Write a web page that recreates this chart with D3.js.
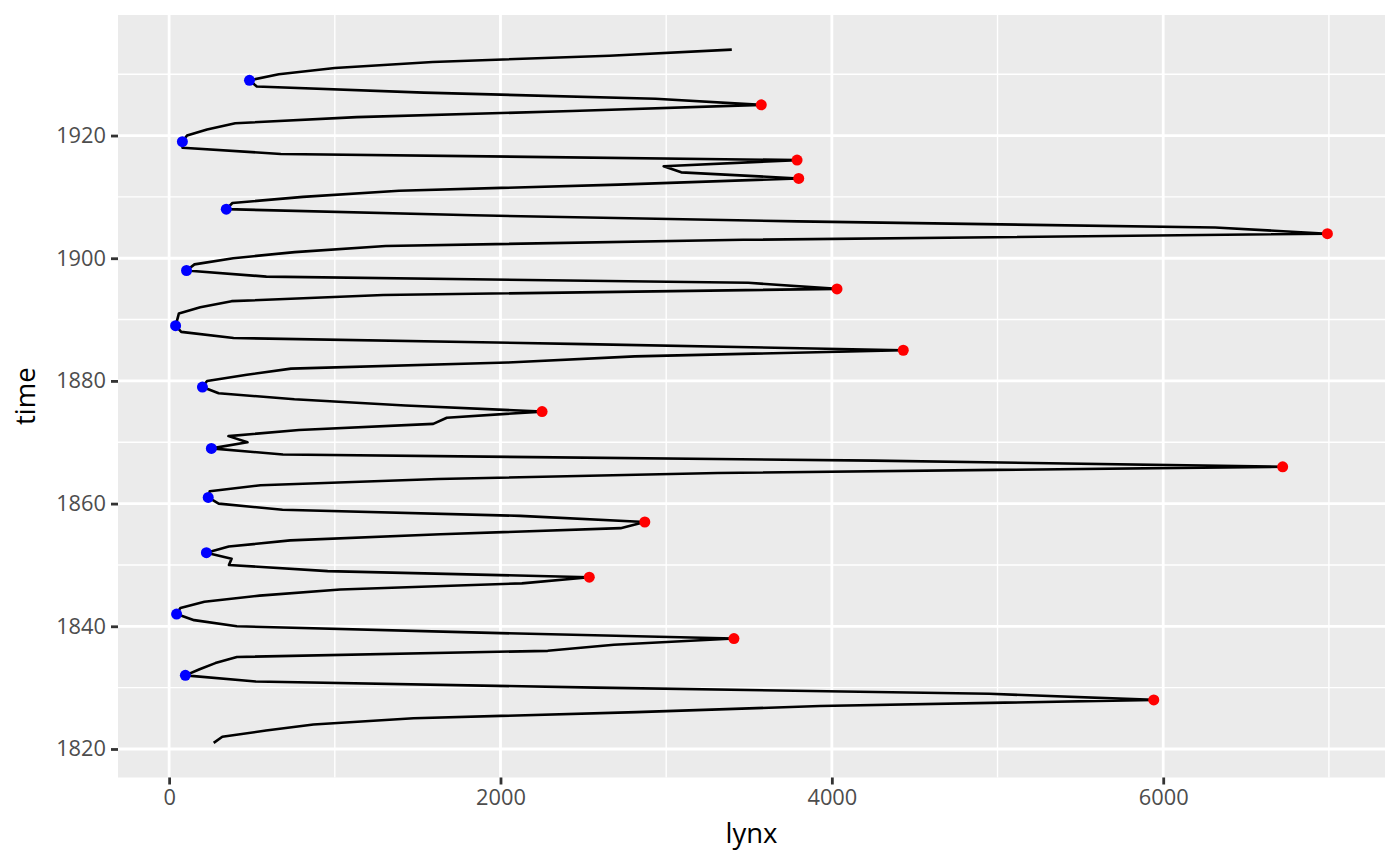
<!DOCTYPE html>
<html><head><meta charset="utf-8">
<script src="https://cdn.jsdelivr.net/npm/d3@7"></script>
<style>body{margin:0;background:#fff}svg{display:block}text{font-family:"Open Sans","Noto Sans",sans-serif}</style>
</head><body><svg id="c" width="1400" height="866"></svg>
<script>
const years = d3.range(1821, 1935);
const lynx = [269,321,585,871,1475,2821,3928,5943,4950,2577,523,98,184,279,409,2285,2685,3409,1824,409,
151,45,68,213,546,1033,2129,2536,957,361,377,225,360,731,1638,2725,2871,2119,684,299,
236,245,552,1623,3311,6721,4254,687,255,473,358,784,1594,1676,2251,1426,756,299,201,229,
469,736,2042,2811,4431,2511,389,73,39,49,59,188,377,1292,4031,3495,587,105,153,387,
758,1307,3465,6991,6313,3794,1836,345,382,808,1388,2713,3800,3091,2985,3790,674,81,80,108,
229,399,1132,2432,3574,2935,1537,529,485,662,1000,1590,2657,3396];
const peakYears = [1828,1838,1848,1857,1866,1875,1885,1895,1904,1913,1916,1925];
const troughYears = [1832,1842,1852,1861,1869,1879,1889,1898,1908,1919,1929];
const xTicks = [0,2000,4000,6000];
const xMinor = [1000,3000,5000,7000];
const yTicks = [1820,1840,1860,1880,1900,1920];
const yMinor = [1830,1850,1870,1890,1910,1930];

const data = years.map((t,i)=>({time:t, lynx:lynx[i]}));
const svg = d3.select("#c");
const L=118, R=1385, T=15, B=777.5;
const xr = d3.extent(lynx), xe=(xr[1]-xr[0])*0.05;
const yr = d3.extent(years), ye=(yr[1]-yr[0])*0.05;
const x = d3.scaleLinear().domain([xr[0]-xe, xr[1]+xe]).range([L,R]);
const y = d3.scaleLinear().domain([yr[0]-ye, yr[1]+ye]).range([B,T]);

svg.append("rect").attr("x",L).attr("y",T).attr("width",R-L).attr("height",B-T).attr("fill","#EBEBEB");
const g = svg.append("g");
xMinor.forEach(v=>g.append("line").attr("x1",x(v)).attr("x2",x(v)).attr("y1",T).attr("y2",B).attr("stroke","#fff").attr("stroke-width",1.4));
yMinor.forEach(v=>g.append("line").attr("y1",y(v)).attr("y2",y(v)).attr("x1",L).attr("x2",R).attr("stroke","#fff").attr("stroke-width",1.4));
xTicks.forEach(v=>g.append("line").attr("x1",x(v)).attr("x2",x(v)).attr("y1",T).attr("y2",B).attr("stroke","#fff").attr("stroke-width",2.8));
yTicks.forEach(v=>g.append("line").attr("y1",y(v)).attr("y2",y(v)).attr("x1",L).attr("x2",R).attr("stroke","#fff").attr("stroke-width",2.8));

const line = d3.line().x(d=>x(d.lynx)).y(d=>y(d.time));
svg.append("path").datum(data).attr("d",line).attr("fill","none").attr("stroke","#000").attr("stroke-width",2.6).attr("stroke-linejoin","round");

const pts = data.filter(d=>peakYears.includes(d.time)||troughYears.includes(d.time));
svg.selectAll("circle.p").data(pts).enter().append("circle")
  .attr("cx",d=>x(d.lynx)).attr("cy",d=>y(d.time)).attr("r",5.5)
  .attr("fill",d=>peakYears.includes(d.time)?"#FF0000":"#0000FF");

const xa = svg.append("g").attr("transform",`translate(0,${B})`).call(d3.axisBottom(x).tickValues(xTicks).tickSize(7).tickPadding(5).tickFormat(d3.format("d")));
const ya = svg.append("g").attr("transform",`translate(${L},0)`).call(d3.axisLeft(y).tickValues(yTicks).tickSize(7).tickPadding(5).tickFormat(d3.format("d")));
[xa,ya].forEach(a=>{a.select(".domain").remove();a.selectAll("line").attr("stroke","#333").attr("stroke-width",2.8);
  a.selectAll("text").attr("fill","#4D4D4D").style("font-size","21.8px").style("font-family",'"Open Sans","Noto Sans",sans-serif');});
svg.append("text").attr("x",(L+R)/2).attr("y",843).attr("text-anchor","middle").style("font-size","27.5px").attr("fill","#000").text("lynx");
svg.append("text").attr("transform",`translate(35,${(T+B)/2}) rotate(-90)`).attr("text-anchor","middle").style("font-size","27.5px").attr("fill","#000").text("time");
</script></body></html>
